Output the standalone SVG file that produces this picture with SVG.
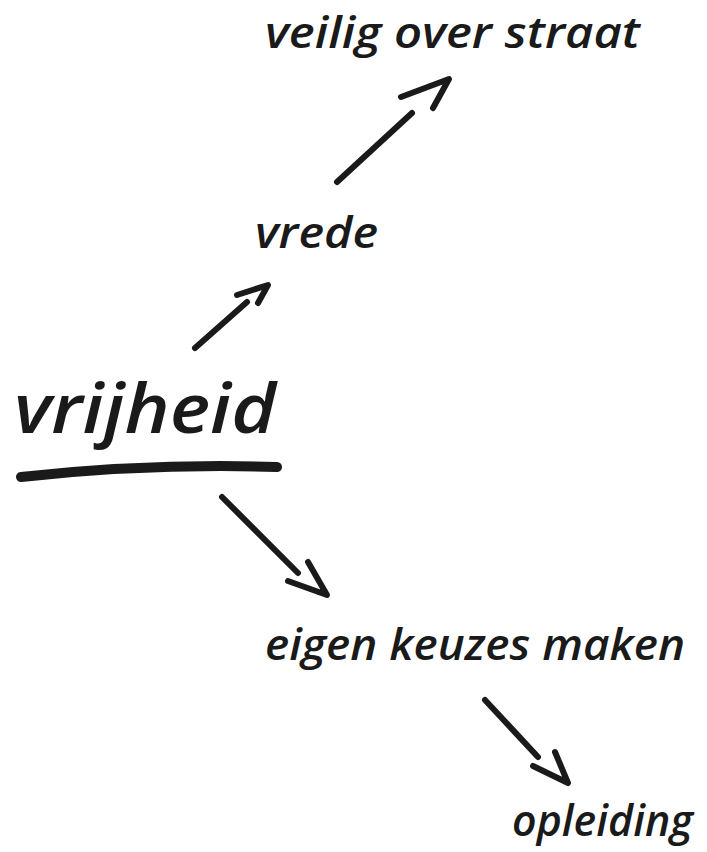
<svg xmlns="http://www.w3.org/2000/svg" width="707" height="852" viewBox="0 0 707 852">
<style>
.t{font-family:"Open Sans","Noto Sans",sans-serif;font-style:italic;font-weight:600;fill:#1a1a1a}
.c{fill:none;stroke:#1a1a1a;stroke-width:6;stroke-linecap:round;stroke-linejoin:round}
</style>
<rect width="707" height="852" fill="#fff"/>
<g id="veilig"><text class="t" x="265" y="48" font-size="43" textLength="375" lengthAdjust="spacingAndGlyphs">veilig over straat</text></g>
<g id="vrede"><text class="t" x="255" y="248" font-size="43" textLength="123" lengthAdjust="spacingAndGlyphs">vrede</text></g>
<g id="vrijheid"><text class="t" x="14" y="433" font-size="68" font-weight="500" textLength="262" lengthAdjust="spacingAndGlyphs">vrijheid</text>
<path d="M21,477 Q150,463 277,467" fill="none" stroke="#1a1a1a" stroke-width="10" stroke-linecap="round"/></g>
<g id="keuzes"><text class="t" x="265" y="660" font-size="43" textLength="420" lengthAdjust="spacingAndGlyphs">eigen keuzes maken</text></g>
<g id="opleiding"><text class="t" x="512" y="836" font-size="43" textLength="181" lengthAdjust="spacingAndGlyphs">opleiding</text></g>
<g id="connectors">
<path class="c" d="M337,182 L412,113"/><path class="c" d="M401,97 L449,79 L433,108"/>
<path class="c" d="M195,348 L247,302"/><path class="c" d="M237,295 L268,285 L258,303"/>
<path class="c" d="M222,497 L298,573"/><path class="c" d="M288,581 L327,595 L308,562"/>
<path class="c" d="M485,700 L538,757"/><path class="c" d="M533,766 L568,783 L555,752"/>
</g>
</svg>
